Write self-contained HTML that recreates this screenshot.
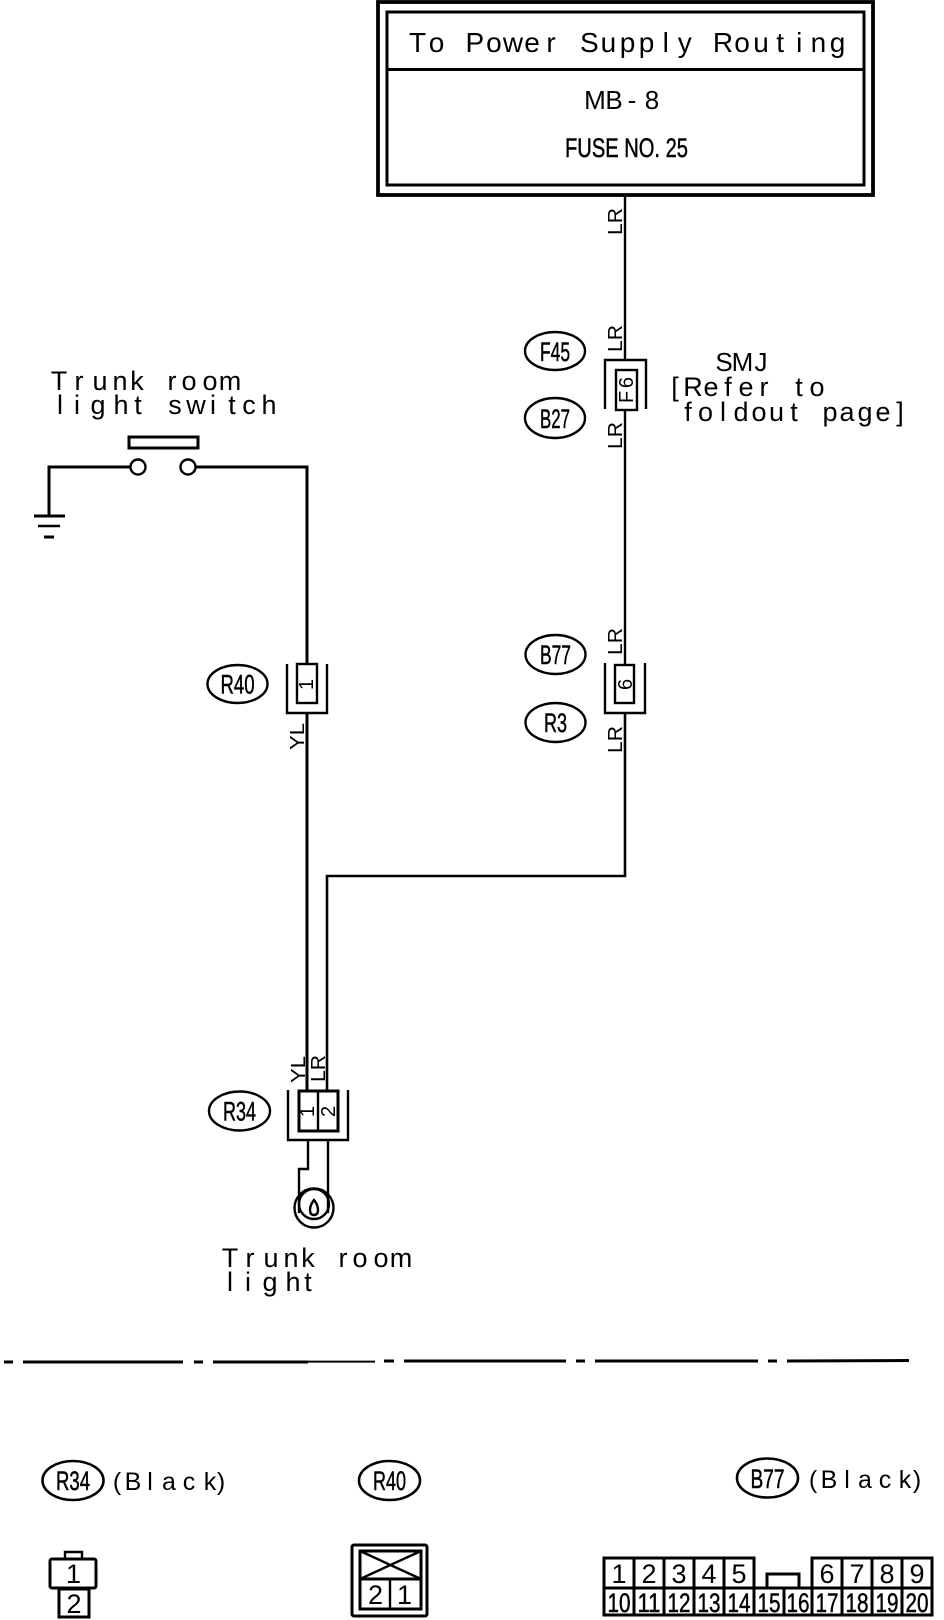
<!DOCTYPE html>
<html>
<head>
<meta charset="utf-8">
<style>
html,body{margin:0;padding:0;background:#fff}
svg{display:block}
text{fill:#000;font-family:"Liberation Sans",sans-serif}
.b{stroke:#000;stroke-width:.5}
.l{stroke:#000;fill:none;stroke-width:2.4}
.t{stroke:#000;fill:none;stroke-width:3}
</style>
</head>
<body>
<svg width="944" height="1620" viewBox="0 0 944 1620" xmlns="http://www.w3.org/2000/svg">
<rect width="944" height="1620" fill="#fff"/>

<!-- Top box -->
<rect x="378" y="2" width="495" height="193" class="l" style="stroke-width:3.8"/>
<rect x="387" y="12" width="477" height="173" class="t"/>
<line x1="387" y1="69.5" x2="864" y2="69.5" class="t"/>
<text y="52" font-size="28" text-anchor="middle" x="417.5 436.6 455.7 474.8 493.9 513 532 551.1 570.2 589.3 608.4 627.5 646.6 665.7 684.8 703.9 723 742 761.1 780.2 799.3 818.4 837.5">To Power Supply Routing</text>
<text y="109" font-size="26" text-anchor="middle" x="595 614 632 652">MB-8</text>
<text x="565" y="157" class="b" font-size="27" textLength="123" lengthAdjust="spacingAndGlyphs">FUSE NO. 25</text>

<!-- Right wire -->
<polyline points="625,195 625,360" class="l"/>
<polyline points="625,410 625,664" class="l"/>
<polyline points="625,713 625,876 327,876 327,1091" class="l" style="stroke-width:2.6"/>

<!-- LR labels -->
<g font-size="20">
<text transform="translate(622,235) rotate(-90)" textLength="27" lengthAdjust="spacingAndGlyphs">LR</text>
<text transform="translate(622,352) rotate(-90)" textLength="27" lengthAdjust="spacingAndGlyphs">LR</text>
<text transform="translate(622,449) rotate(-90)" textLength="27" lengthAdjust="spacingAndGlyphs">LR</text>
<text transform="translate(622,655) rotate(-90)" textLength="27" lengthAdjust="spacingAndGlyphs">LR</text>
<text transform="translate(622,753) rotate(-90)" textLength="27" lengthAdjust="spacingAndGlyphs">LR</text>
</g>

<!-- F6 connector -->
<polyline points="605,409 605,360 646,360 646,409" class="l"/>
<rect x="616" y="370" width="21" height="40" class="l"/>
<text transform="translate(633,403) rotate(-90)" font-size="20" textLength="26" lengthAdjust="spacing">F6</text>

<!-- 6 connector -->
<polyline points="605,663 605,713 645,713 645,663" class="l"/>
<rect x="615" y="665" width="19" height="38" class="l"/>
<text transform="translate(632,690) rotate(-90)" font-size="20">6</text>

<!-- Ovals -->
<g font-size="27" text-anchor="middle" class="b">
<ellipse cx="555" cy="351" rx="30" ry="19" class="l"/>
<text x="555" y="361" textLength="30" lengthAdjust="spacingAndGlyphs">F45</text>
<ellipse cx="555" cy="418" rx="30" ry="20" class="l"/>
<text x="555" y="428" textLength="30" lengthAdjust="spacingAndGlyphs">B27</text>
<ellipse cx="555.5" cy="654.5" rx="30" ry="19.5" class="l"/>
<text x="555.5" y="664" textLength="31" lengthAdjust="spacingAndGlyphs">B77</text>
<ellipse cx="555.5" cy="722.5" rx="30" ry="19.5" class="l"/>
<text x="555.5" y="732" textLength="23" lengthAdjust="spacingAndGlyphs">R3</text>
<ellipse cx="237.5" cy="684" rx="30" ry="19" class="l"/>
<text x="237.5" y="693.5" textLength="34" lengthAdjust="spacingAndGlyphs">R40</text>
<ellipse cx="239.5" cy="1111" rx="30.5" ry="19.5" class="l"/>
<text x="239.5" y="1120.5" textLength="33" lengthAdjust="spacingAndGlyphs">R34</text>
</g>

<!-- SMJ -->
<text y="371" font-size="26" text-anchor="middle" x="724 742.5 761">SMJ</text>
<text y="396" font-size="27" text-anchor="middle" x="675 693 711 728 746 764 782 799 817">[Refer to</text>
<text y="421" font-size="27" text-anchor="middle" x="688 705.5 723 741 759 776.5 794 812 830 847 865 883 900">foldout page]</text>

<!-- Switch -->
<text y="390" font-size="27" text-anchor="middle" x="59 79 100 120 137 155 172 189 210 230">Trunk room</text>
<text y="414" font-size="27" text-anchor="middle" x="60 77 98 121 138 155 175 196 213 232 249 269">light switch</text>
<rect x="129" y="437" width="69" height="11" class="t"/>
<circle cx="138" cy="467" r="7.5" class="l"/>
<circle cx="188" cy="467" r="7.5" class="l"/>
<polyline points="130,467 49,467 49,516" class="t"/>
<line x1="34" y1="516" x2="65" y2="516" class="t"/>
<line x1="38" y1="526" x2="60" y2="526" class="l"/>
<line x1="44" y1="537" x2="54" y2="537" class="t"/>
<polyline points="196,467 307,467 307,664" class="t"/>
<polyline points="307,713 307,1091" class="t"/>

<!-- R40 connector -->
<polyline points="287,664 287,713 327,713 327,664" class="l"/>
<rect x="297" y="664" width="20" height="39" class="l"/>
<text transform="translate(313,690) rotate(-90)" font-size="20">1</text>

<!-- YL labels -->
<g font-size="20">
<text transform="translate(304,750) rotate(-90)" textLength="27" lengthAdjust="spacingAndGlyphs">YL</text>
<text transform="translate(305,1083) rotate(-90)" textLength="27" lengthAdjust="spacingAndGlyphs">YL</text>
<text transform="translate(325,1082) rotate(-90)" textLength="27" lengthAdjust="spacingAndGlyphs">LR</text>
</g>

<!-- R34 connector -->
<polyline points="288,1090 288,1140 348,1140 348,1090" class="l"/>
<rect x="299" y="1091" width="39" height="40" class="t"/>
<line x1="318" y1="1091" x2="318" y2="1131" class="l"/>
<text transform="translate(314,1117) rotate(-90)" font-size="20">1</text>
<text transform="translate(335,1117) rotate(-90)" font-size="20">2</text>

<!-- Bulb -->
<polyline points="308,1140 308,1169 299,1169 299,1213" class="l"/>
<polyline points="328,1140 328,1213" class="l"/>
<circle cx="314" cy="1208" r="19.5" class="l"/>
<circle cx="314" cy="1204" r="15" class="l"/>
<path d="M314 1200 Q318 1205 318 1210 Q318 1215 314 1215 Q310 1215 310 1210 Q310 1205 314 1200Z" class="l"/>

<text y="1267" font-size="27" text-anchor="middle" x="230 250 271 291 308 326 343 360 381 401">Trunk room</text>
<text y="1291" font-size="27" text-anchor="middle" x="230 248 270 293 308">light</text>

<!-- Dash-dot line -->
<g stroke="#000" stroke-width="3" fill="none">
<line x1="4" y1="1362" x2="13" y2="1362"/>
<line x1="23" y1="1362" x2="183" y2="1362"/>
<line x1="194" y1="1362" x2="203" y2="1362"/>
<line x1="213" y1="1362" x2="308" y2="1362"/>
<line x1="308" y1="1361.6" x2="375" y2="1361.6" stroke-width="2"/>
<line x1="384" y1="1361" x2="394" y2="1361"/>
<line x1="404" y1="1361" x2="566" y2="1361"/>
<line x1="576" y1="1361" x2="585" y2="1361"/>
<line x1="595" y1="1361" x2="758" y2="1361"/>
<line x1="768" y1="1361" x2="777" y2="1361"/>
<line x1="787" y1="1361" x2="909" y2="1360.5"/>
</g>

<!-- Bottom labels -->
<g font-size="27" text-anchor="middle" class="b">
<ellipse cx="73" cy="1480.5" rx="30.5" ry="19.5" class="l" style="stroke-width:2.6"/>
<text x="73" y="1490" textLength="34" lengthAdjust="spacingAndGlyphs">R34</text>
<ellipse cx="389.5" cy="1480.5" rx="30.5" ry="19.5" class="l" style="stroke-width:2.6"/>
<text x="389.5" y="1490" textLength="33" lengthAdjust="spacingAndGlyphs">R40</text>
<ellipse cx="767.5" cy="1478" rx="30.5" ry="19.5" class="l" style="stroke-width:2.6"/>
<text x="767.5" y="1488" textLength="34" lengthAdjust="spacingAndGlyphs">B77</text>
</g>
<text y="1490" font-size="25" text-anchor="middle" x="117 133 150 169 189 210 221">(Black)</text>
<text y="1488" font-size="25" text-anchor="middle" x="813 829 847 865 885 905 917">(Black)</text>

<!-- R34 pin view -->
<polyline points="65,1558 65,1552 82,1552 82,1558" class="l"/>
<rect x="50" y="1559" width="46" height="29" rx="2" class="t"/>
<rect x="59" y="1589" width="30" height="28" class="t"/>
<text x="73.5" y="1583" text-anchor="middle" font-size="27">1</text>
<text x="74" y="1613" text-anchor="middle" font-size="27">2</text>

<!-- R40 pin view -->
<rect x="352" y="1545" width="75" height="71" rx="2" class="t"/>
<rect x="360" y="1551" width="61" height="58" class="t"/>
<line x1="360" y1="1579" x2="421" y2="1579" class="t"/>
<line x1="390" y1="1579" x2="390" y2="1609" class="l"/>
<line x1="360" y1="1551" x2="421" y2="1579" class="l"/>
<line x1="421" y1="1551" x2="360" y2="1579" class="l"/>
<text x="375.5" y="1604" text-anchor="middle" font-size="27">2</text>
<text x="404.5" y="1604" text-anchor="middle" font-size="27">1</text>

<!-- B77 pin view -->
<path d="M604 1588 V1558 H754 V1588 M812 1588 V1558 H932 V1615 H604 V1588 H932" class="t"/>
<path d="M634 1558 V1615 M664 1558 V1615 M694 1558 V1615 M724 1558 V1615 M754 1558 V1615 M784 1588 V1615 M812 1588 V1615 M842 1558 V1615 M872 1558 V1615 M902 1558 V1615" class="t"/>
<polyline points="767,1587 767,1574 799,1574 799,1587" class="t"/>
<g font-size="27" text-anchor="middle">
<text x="619" y="1583">1</text><text x="649" y="1583">2</text><text x="679" y="1583">3</text><text x="709" y="1583">4</text><text x="739" y="1583">5</text>
<text x="827" y="1583">6</text><text x="857" y="1583">7</text><text x="887" y="1583">8</text><text x="917" y="1583">9</text>
</g>
<g font-size="27" text-anchor="middle" class="b">
<text x="619" y="1612" textLength="23" lengthAdjust="spacingAndGlyphs">10</text>
<text x="649" y="1612" textLength="23" lengthAdjust="spacingAndGlyphs">11</text>
<text x="679" y="1612" textLength="23" lengthAdjust="spacingAndGlyphs">12</text>
<text x="709" y="1612" textLength="23" lengthAdjust="spacingAndGlyphs">13</text>
<text x="739" y="1612" textLength="23" lengthAdjust="spacingAndGlyphs">14</text>
<text x="769" y="1612" textLength="23" lengthAdjust="spacingAndGlyphs">15</text>
<text x="798" y="1612" textLength="23" lengthAdjust="spacingAndGlyphs">16</text>
<text x="827" y="1612" textLength="23" lengthAdjust="spacingAndGlyphs">17</text>
<text x="857" y="1612" textLength="23" lengthAdjust="spacingAndGlyphs">18</text>
<text x="887" y="1612" textLength="23" lengthAdjust="spacingAndGlyphs">19</text>
<text x="917" y="1612" textLength="23" lengthAdjust="spacingAndGlyphs">20</text>
</g>
</svg>
</body>
</html>
